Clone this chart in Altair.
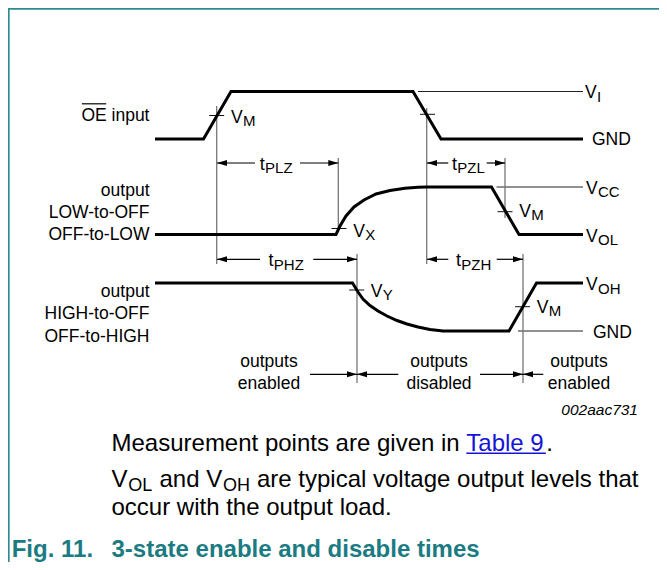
import altair as alt
import pandas as pd

# ---------------- signal waveforms (time, level) in diagram units ----------------
oe_time = [155, 203.5, 231, 413, 441, 583]
oe_level = [139, 139, 91.5, 91.5, 139, 139]

low_time = [155, 336, 340, 346, 354, 364, 376, 390, 405, 418, 427, 491.5, 519, 583]
low_level = [234.5, 234.5, 226, 216, 207, 200, 194, 190.5, 188.3, 187.3, 187, 187, 234.5, 234.5]

high_time = [155, 352.5, 355, 358, 363, 370, 378, 387, 397, 407, 418, 430, 443, 509, 536.5, 583]
high_level = [283, 283, 287, 292, 299, 305.5, 311, 316, 320.5, 324, 327, 329.5, 331, 331, 283, 283]

# reference levels (thin lines)
ref_start = [418, 496.5, 518]
ref_end = [583, 583, 583]
ref_level = [91.5, 187, 331]

# measurement instants (vertical lines)
mark_time = [216.7, 426.7, 338.3, 505, 357, 523]
mark_top = [106, 108, 158, 158, 254, 254]
mark_bot = [264, 264, 230, 218, 383, 383]

# crossing ticks
cross_time = [216.7, 427.5, 339, 505, 356.7, 522.5]
cross_level = [115.5, 114.3, 228.5, 211.7, 290, 306.7]

# timing arrows: tail -> tip at level
arrow_tail = [255, 300, 448.3, 486.7, 260, 313.3, 448.3, 496.7, 310, 398.3, 480, 543.3]
arrow_tip = [217, 338.3, 427, 505, 217, 357, 427, 523, 357, 357, 523, 523]
arrow_level = [163, 163, 163, 163, 259.3, 259.3, 259.3, 259.3, 374.3, 374.3, 374.3, 374.3]

# left signal names (right aligned)
name_text = ["OE input", "output", "LOW-to-OFF", "OFF-to-LOW", "output", "HIGH-to-OFF", "OFF-to-HIGH"]
name_y = [121, 195.5, 217.7, 240, 296.5, 319, 341.5]

# symbols with subscripts: main, sub, x, baseline
sym_main = ["V", "V", "V", "V", "V", "V", "V", "V", "V", "t", "t", "t", "t"]
sym_sub = ["I", "CC", "OL", "OH", "M", "X", "Y", "M", "M", "PLZ", "PZL", "PHZ", "PZH"]
sym_x = [585, 586, 586, 586, 231, 353.3, 370.7, 519.3, 536.7, 259.8, 452, 268.5, 456]
sym_y = [98, 193.5, 241.5, 290, 122.5, 236.7, 296.7, 216.7, 312.7, 169.5, 169.5, 266, 266]

gnd_x = [592, 593]
gnd_y = [145, 337.5]

state_text = ["outputs", "enabled", "outputs", "disabled", "outputs", "enabled"]
state_x = [269, 269, 439, 439, 579, 579]
state_y = [366.7, 389.3, 366.7, 389.3, 366.7, 389.3]

FONT = "Liberation Sans"
W, H = 651, 554
xs = alt.Scale(domain=[8, 8 + W], nice=False, zero=False)
ys = alt.Scale(domain=[8, 8 + H], nice=False, zero=False, reverse=True)


def X(f):
    return alt.X(f"{f}:Q", scale=xs, axis=None)


def Y(f):
    return alt.Y(f"{f}:Q", scale=ys, axis=None)


TEAL = "#2f8b90"
TITLE = "#1b7b82"
BLUE = "#1414d8"

# ---------------- waveforms ----------------
rows = []
for name, ts, vs in [("oe", oe_time, oe_level), ("low", low_time, low_level), ("high", high_time, high_level)]:
    for i, (t, v) in enumerate(zip(ts, vs)):
        rows.append({"sig": name, "i": i, "t": t, "v": v})
wave = alt.Chart(pd.DataFrame(rows)).mark_line(color="black", strokeWidth=3).encode(
    x=X("t"), y=Y("v"), detail="sig:N", order="i:Q")

# ---------------- rules ----------------
L1, L2, L3 = 450.5, 487, 515
r = []
r.append(dict(x=8.75, x2=8.75, y=8, y2=8 + H, c=TEAL, w=1.8))
r.append(dict(x=8, x2=8 + W, y=8.75, y2=8.75, c=TEAL, w=1.8))
for a, b, lv in zip(ref_start, ref_end, ref_level):
    r.append(dict(x=a, x2=b, y=lv, y2=lv, c="#222222", w=1))
for t, a, b in zip(mark_time, mark_top, mark_bot):
    r.append(dict(x=t, x2=t, y=a, y2=b, c="#777777", w=1.3))
for t, lv in zip(cross_time, cross_level):
    r.append(dict(x=t - 7.5, x2=t + 7.5, y=lv, y2=lv, c="#111111", w=1))
for a, b, lv in zip(arrow_tail, arrow_tip, arrow_level):
    r.append(dict(x=a, x2=b, y=lv, y2=lv, c="#000000", w=1.2))
# overline on OE  (17.5px text right aligned at 149.5)
oe_start = 149.5 - 3.891 * 17.5
r.append(dict(x=oe_start + 0.5, x2=oe_start + 1.445 * 17.5 - 0.5, y=103.8, y2=103.8, c="#000000", w=1.2))
# underline of link
table_x = 111.5 + 14.784 * 24
r.append(dict(x=table_x, x2=table_x + 3.335 * 24 - 0.5, y=L1 + 2.8, y2=L1 + 2.8, c=BLUE, w=1.5))
rules = alt.Chart(pd.DataFrame(r)).mark_rule().encode(
    x=X("x"), x2="x2:Q", y=Y("y"), y2="y2:Q",
    color=alt.Color("c:N", scale=None), strokeWidth=alt.StrokeWidth("w:Q", scale=None))

# ---------------- arrow heads ----------------
heads = pd.DataFrame({"x": arrow_tip, "y": arrow_level,
                      "d": ["L" if tp < tl else "R" for tl, tp in zip(arrow_tail, arrow_tip)]})
head_layer = alt.Chart(heads).mark_point(filled=True, opacity=1, strokeWidth=0, color="black", size=400).encode(
    x=X("x"), y=Y("y"),
    shape=alt.Shape("d:N", scale=alt.Scale(domain=["L", "R"],
                                           range=["M0,0L1,-0.3L1,0.3Z", "M0,0L-1,-0.3L-1,0.3Z"]), legend=None))

# ---------------- texts ----------------
left_rows = []   # left aligned
right_rows = []  # right aligned
center_rows = []

for s, y in zip(name_text, name_y):
    right_rows.append(dict(x=149.5, y=y, s=s, fs=17.5, c="black"))
for m, sb, x, y in zip(sym_main, sym_sub, sym_x, sym_y):
    fs = 17.5 if m == "V" else 18
    adv = (0.667 if m == "V" else 0.278) * fs
    left_rows.append(dict(x=x, y=y, s=m, fs=fs, c="black"))
    left_rows.append(dict(x=x + adv + 0.3, y=y + 3.5, s=sb, fs=15, c="black"))
for x, y in zip(gnd_x, gnd_y):
    left_rows.append(dict(x=x, y=y, s="GND", fs=17.5, c="black"))
for s, x, y in zip(state_text, state_x, state_y):
    center_rows.append(dict(x=x, y=y, s=s, fs=17.5, c="black"))

# body text
left_rows.append(dict(x=111.5, y=L1, s="Measurement points are given in", fs=24, c="black"))
left_rows.append(dict(x=table_x, y=L1, s="Table 9", fs=24, c=BLUE))
left_rows.append(dict(x=table_x + 3.335 * 24, y=L1, s=".", fs=24, c="black"))
left_rows.append(dict(x=111.5, y=L2, s="V", fs=24, c="black"))
x_ol = 111.5 + 0.667 * 24 + 0.8
left_rows.append(dict(x=x_ol, y=L2 + 4, s="OL", fs=18, c="black"))
x_and = x_ol + 1.334 * 18 + 0.278 * 24 + 0.5
left_rows.append(dict(x=x_and, y=L2, s="and V", fs=24, c="black"))
x_oh = x_and + 2.613 * 24 + 0.8
left_rows.append(dict(x=x_oh, y=L2 + 4, s="OH", fs=18, c="black"))
x_are = x_oh + 1.5 * 18 + 0.278 * 24 + 0.3
left_rows.append(dict(x=x_are, y=L2, s="are typical voltage output levels that", fs=24, c="black"))
left_rows.append(dict(x=111.5, y=L3, s="occur with the output load.", fs=24, c="black"))


def text_layer(rows_, align, **kw):
    return alt.Chart(pd.DataFrame(rows_)).mark_text(align=align, baseline="alphabetic", font=FONT, **kw).encode(
        x=X("x"), y=Y("y"), text="s:N",
        size=alt.Size("fs:Q", scale=None, legend=None),
        color=alt.Color("c:N", scale=None))


txt_left = text_layer(left_rows, "left")
txt_right = text_layer(right_rows, "right")
txt_center = text_layer(center_rows, "center")
txt_code = text_layer([dict(x=638, y=415, s="002aac731", fs=15.5, c="black")], "right", fontStyle="italic")
txt_title = text_layer([dict(x=11.7, y=557, s="Fig. 11.", fs=24, c=TITLE),
                        dict(x=111.5, y=557, s="3-state enable and disable times", fs=24, c=TITLE)],
                       "left", fontWeight="bold")

chart = alt.layer(rules, wave, head_layer, txt_left, txt_right, txt_center, txt_code, txt_title).properties(
    width=W, height=H, padding=0, autosize=alt.AutoSizeParams(type="none"),
    background="white").configure_view(stroke=None)

chart.save("out.html", embed_options={"renderer": "svg", "actions": False})
